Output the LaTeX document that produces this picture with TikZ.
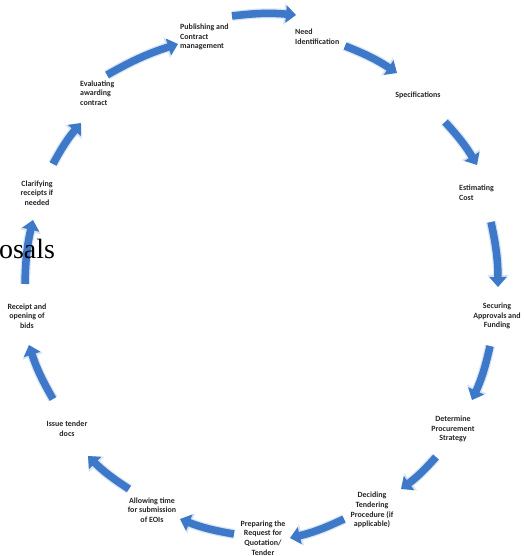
\documentclass[tikz,border=0pt]{standalone}
\usepackage{fontspec}
\setmainfont{Carlito}
\newfontfamily\serifold{Liberation Serif}
\usetikzlibrary{arrows.meta}
\definecolor{arrowblue}{RGB}{62,120,200}
\definecolor{glowblue}{RGB}{215,228,245}
\tikzset{
  flow/.style={line width=7.5bp, draw=arrowblue, -{Triangle[width=17bp,length=10bp]}},
  glow/.style={line width=10bp, draw=glowblue, -{Triangle[width=21bp,length=12bp]}},
  lbl/.style={inner sep=0pt, font=\bfseries\fontsize{8}{9.7}\selectfont, text=black!85},
}
\newcommand{\cyclearrow}[2]{%
  \draw[glow] (#1) to[bend left=6] (#2);
  \draw[flow] (#1) to[bend left=6] (#2);}
\begin{document}
\begin{tikzpicture}[x=1bp,y=-1bp]
\useasboundingbox (0,0) rectangle (524,556);
% labels
\node[lbl, anchor=west, align=left] (pub) at (180,37) {Publishing and\\Contract\\management};
\node[lbl, anchor=west, align=left] (need) at (295,37) {Need\\Identification};
\node[lbl] (spec) at (418,95) {Specifications};
\node[lbl, anchor=west, align=left] (est) at (459,193) {Estimating\\Cost};
\node[lbl, align=center] (sec) at (497,316) {Securing\\Approvals and\\Funding};
\node[lbl, align=center] (det) at (453,429) {Determine\\Procurement\\Strategy};
\node[lbl, align=center] (dec) at (372,510) {Deciding\\Tendering\\Procedure (if\\applicable)};
\node[lbl, align=center] (prep) at (263,538) {Preparing the\\Request for\\Quotation/\\Tender};
\node[lbl, align=center] (allow) at (152,510) {Allowing time\\for submission\\of EOIs};
\node[lbl, align=center] (issue) at (67,429) {Issue tender\\docs};
\node[lbl, align=center] (rec) at (27,316) {Receipt and\\opening of\\bids};
\node[lbl, align=center] (clar) at (37,193) {Clarifying\\receipts if\\needed};
\node[lbl, anchor=west, align=left] (eval) at (80,93) {Evaluating\\awarding\\contract};
% arrow ends
\coordinate (a1s) at (232,16);  \coordinate (a1e) at (296,15);
\coordinate (a2s) at (345,46);  \coordinate (a2e) at (397,73);
\coordinate (a3s) at (445,122); \coordinate (a3e) at (477,165);
\coordinate (a4s) at (491,222); \coordinate (a4e) at (498,287);
\coordinate (a5s) at (490,346); \coordinate (a5e) at (472,400);
\coordinate (a6s) at (436,457); \coordinate (a6e) at (401,489);
\coordinate (a7s) at (344,519); \coordinate (a7e) at (290,538);
\coordinate (a8s) at (234,534); \coordinate (a8e) at (180,519);
\coordinate (a9s) at (129,489); \coordinate (a9e) at (88,456);
\coordinate (a10s) at (53,399); \coordinate (a10e) at (29,345);
\coordinate (a11s) at (25,284); \coordinate (a11e) at (33,220);
\coordinate (a12s) at (53,164); \coordinate (a12e) at (81,123);
\coordinate (a13s) at (107,75); \coordinate (a13e) at (178,44);
\foreach \i in {1,...,13}{\cyclearrow{a\i s}{a\i e}}
\node[anchor=base west, inner sep=0pt, font=\serifold\fontsize{28}{30}\selectfont] (osals) at (-1,258) {osals};
\end{tikzpicture}
\end{document}
